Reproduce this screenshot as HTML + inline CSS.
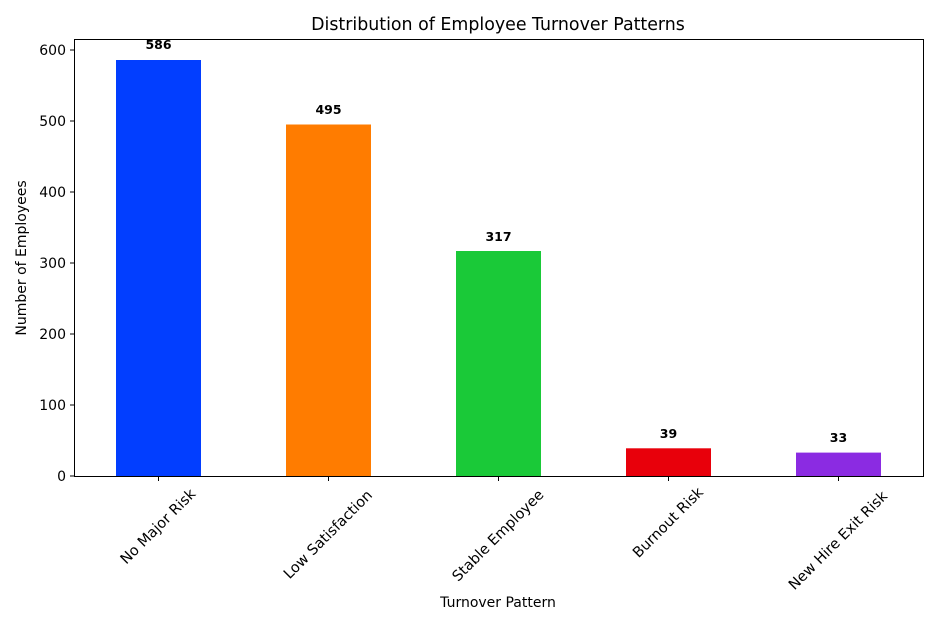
<!DOCTYPE html>
<html><head><meta charset="utf-8"><style>
html,body{margin:0;padding:0;background:#fff;}
svg{display:block;font-family:"DejaVu Sans","Liberation Sans",sans-serif;}
</style></head><body>
<svg width="939" height="626" viewBox="0 0 939 626" xmlns="http://www.w3.org/2000/svg">
<rect width="939" height="626" fill="#fff"/>
<text x="498" y="30" font-size="17.4" text-anchor="middle" fill="#000">Distribution of Employee Turnover Patterns</text>
<rect x="116" y="60" width="85" height="416" fill="#023eff"/>
<rect x="286" y="124.5" width="85" height="351.5" fill="#ff7c00"/>
<rect x="456" y="251" width="85" height="225" fill="#1ac938"/>
<rect x="626" y="448.3" width="85" height="27.7" fill="#e8000b"/>
<rect x="796" y="452.6" width="85" height="23.4" fill="#8b2be2"/>
<g font-size="12.5" font-weight="bold" text-anchor="middle" fill="#000">
<text x="158.5" y="49">586</text>
<text x="328.5" y="114">495</text>
<text x="498.5" y="241">317</text>
<text x="668.5" y="438">39</text>
<text x="838.5" y="442">33</text>
</g>
<rect x="74.5" y="39.5" width="849" height="437" fill="none" stroke="#000" stroke-width="1"/>
<g stroke="#000" stroke-width="1">
<line x1="70" y1="476" x2="74" y2="476"/><line x1="70" y1="405" x2="74" y2="405"/>
<line x1="70" y1="334" x2="74" y2="334"/><line x1="70" y1="263" x2="74" y2="263"/>
<line x1="70" y1="192" x2="74" y2="192"/><line x1="70" y1="121" x2="74" y2="121"/>
<line x1="70" y1="50" x2="74" y2="50"/>
<line x1="158.5" y1="477" x2="158.5" y2="481"/><line x1="328.5" y1="477" x2="328.5" y2="481"/>
<line x1="498.5" y1="477" x2="498.5" y2="481"/><line x1="668.5" y1="477" x2="668.5" y2="481"/>
<line x1="838.5" y1="477" x2="838.5" y2="481"/>
</g>
<g font-size="14" text-anchor="end" fill="#000">
<text x="66" y="481">0</text><text x="66" y="410">100</text><text x="66" y="339">200</text>
<text x="66" y="268">300</text><text x="66" y="197">400</text><text x="66" y="126">500</text>
<text x="66" y="55">600</text>
</g>
<g font-size="14.5" text-anchor="middle" dominant-baseline="central" fill="#000">
<text transform="translate(158.5,527) rotate(-45)">No Major Risk</text>
<text transform="translate(328.5,535) rotate(-45)">Low Satisfaction</text>
<text transform="translate(498.5,536) rotate(-45)">Stable Employee</text>
<text transform="translate(668.5,523) rotate(-45)">Burnout Risk</text>
<text transform="translate(838.5,541) rotate(-45)">New Hire Exit Risk</text>
</g>
<text x="498" y="607" font-size="14" text-anchor="middle" fill="#000">Turnover Pattern</text>
<text transform="translate(26,258) rotate(-90)" font-size="14" text-anchor="middle" fill="#000">Number of Employees</text>
</svg>
</body></html>
